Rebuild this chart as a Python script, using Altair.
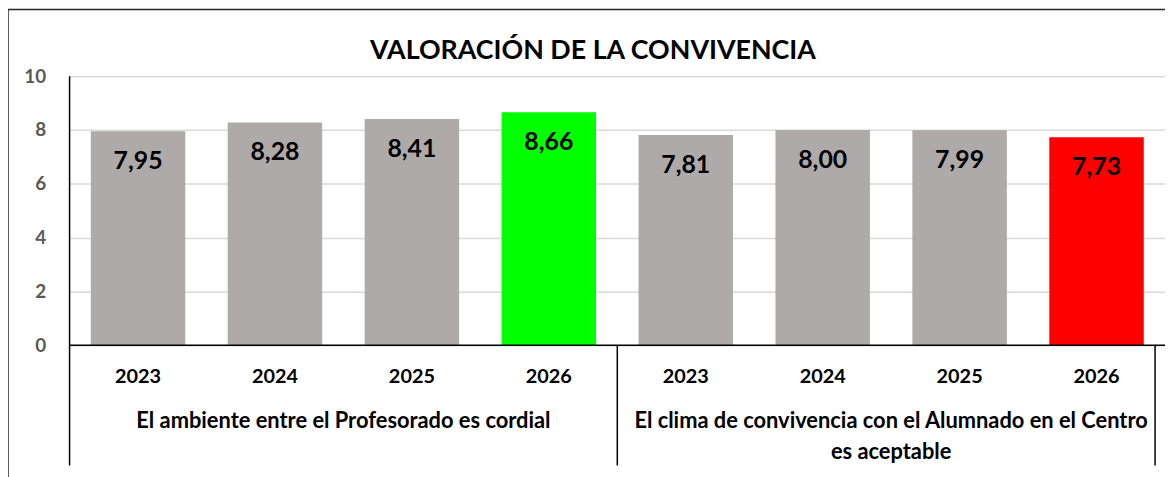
import altair as alt
import pandas as pd

title = "VALORACIÓN DE LA CONVIVENCIA"
groups = ["El ambiente entre el Profesorado es cordial",
          "El clima de convivencia con el Alumnado en el Centro\nes aceptable"]
years = ["2023", "2024", "2025", "2026"]
values_prof = [7.95, 8.28, 8.41, 8.66]
values_alum = [7.81, 8.00, 7.99, 7.73]
colors_prof = ["#AEAAAA", "#AEAAAA", "#AEAAAA", "#00FF00"]
colors_alum = ["#AEAAAA", "#AEAAAA", "#AEAAAA", "#FF0000"]

rows = []
for g, (vals, cols) in enumerate([(values_prof, colors_prof), (values_alum, colors_alum)]):
    for j, (y, v, c) in enumerate(zip(years, vals, cols)):
        i = g * 4 + j
        rows.append({"idx": i, "x0": i + 0.155, "x1": i + 0.845, "xc": i + 0.5,
                     "year": y, "value": v, "color": c,
                     "label": f"{v:.2f}".replace(".", ",")})
df = pd.DataFrame(rows)
gdf = pd.DataFrame({"group": groups, "xc": [2, 6]})
sep = pd.DataFrame({"x": [4]})

W, H = 1103, 271
FONT = "Lato"
xs = alt.Scale(domain=[0, 8], nice=False, zero=False)

base = alt.Chart(df)
bars = base.mark_rect().encode(
    x=alt.X("x0:Q", scale=xs, axis=None),
    x2="x1:Q",
    y=alt.Y("value:Q", scale=alt.Scale(domain=[0, 10], nice=False),
            axis=alt.Axis(values=[0, 2, 4, 6, 8, 10], title=None, domain=False,
                          ticks=False, labelPadding=24, labelFont=FONT,
                          labelFontSize=19, labelFontWeight="bold",
                          labelColor="#595959", gridColor="#D9D9D9", gridWidth=1.5)),
    y2=alt.datum(0),
    color=alt.Color("color:N", scale=None),
)
labels = base.mark_text(font=FONT, fontSize=25, fontWeight="bold", color="black",
                        baseline="middle", dy=30).encode(
    x="xc:Q", y="value:Q", text="label:N")
year_text = base.mark_text(font=FONT, fontSize=20, fontWeight="bold", color="black",
                           baseline="middle").encode(
    x="xc:Q", y=alt.value(H + 32), text="year:N")
group_text = alt.Chart(gdf).mark_text(font=FONT, fontSize=22, fontWeight="bold",
                                      color="black", baseline="top", lineBreak="\n",
                                      lineHeight=31).encode(
    x="xc:Q", y=alt.value(H + 66), text="group:N")
zero_line = alt.Chart(pd.DataFrame({"a": [0], "b": [8]})).mark_rule(
    color="black", strokeWidth=1.5).encode(x="a:Q", x2="b:Q", y=alt.datum(0))
left_line = alt.Chart(pd.DataFrame({"a": [0]})).mark_rule(
    color="black", strokeWidth=1.5).encode(x="a:Q", y=alt.value(0), y2=alt.value(H + 121))
seps = alt.Chart(sep).mark_rule(color="black", strokeWidth=1.5).encode(
    x="x:Q", y=alt.value(H), y2=alt.value(H + 121))
right_sep = alt.Chart(pd.DataFrame({"a": [0]})).mark_rule(
    color="black", strokeWidth=1.5).encode(
    x=alt.value(W - 10), y=alt.value(H), y2=alt.value(H + 121))
frame = alt.Chart(pd.DataFrame({"a": [0]})).mark_rect(
    fill="white", fillOpacity=0, stroke="#262626", strokeWidth=1.5).encode(
    x=alt.value(-62), x2=alt.value(W + 40), y=alt.value(-67), y2=alt.value(H + 160))
title_text = alt.Chart(pd.DataFrame({"t": [title]})).mark_text(
    font=FONT, fontSize=27, fontWeight="bold", color="black", baseline="alphabetic").encode(
    x=alt.value(527), y=alt.value(-17), text="t:N")

chart = alt.layer(frame, bars, labels, year_text, group_text, zero_line, left_line, seps,
                  right_sep, title_text).properties(
    width=W, height=H,
    autosize=alt.AutoSizeParams(type="none"),
    padding={"left": 62, "top": 67, "right": 0, "bottom": 131},
).configure_view(stroke=None)

chart.save("out.html", embed_options={"renderer": "svg", "actions": False})
